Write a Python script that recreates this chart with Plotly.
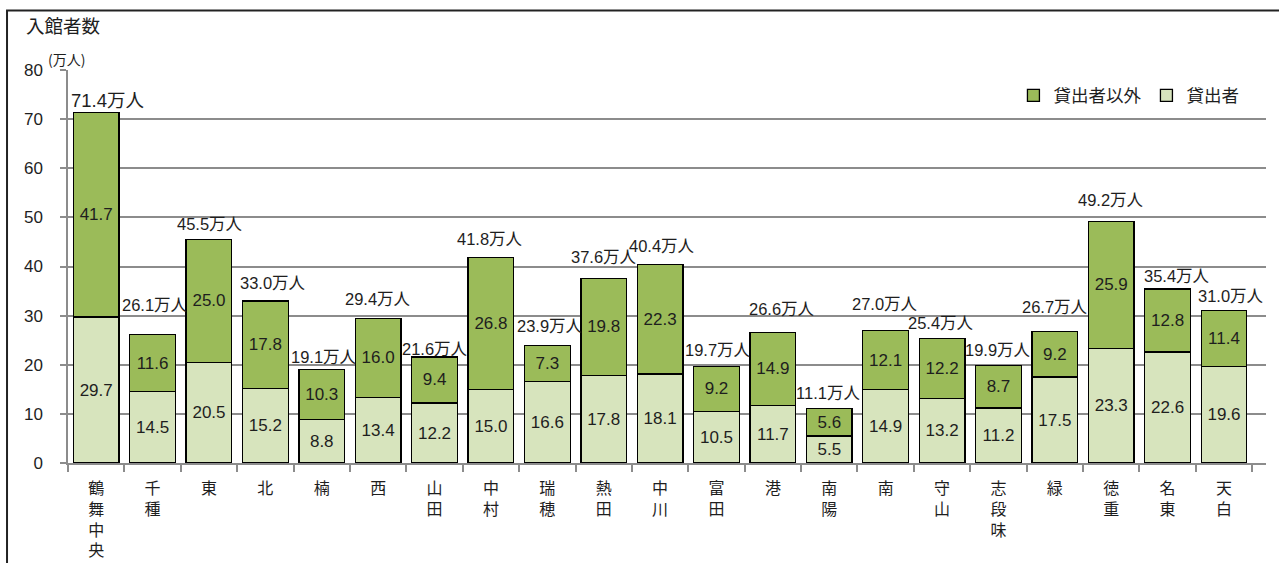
import plotly.graph_objects as go

# 図書館別 入館者数（万人）
libraries = ["鶴舞中央", "千種", "東", "北", "楠", "西", "山田", "中村", "瑞穂", "熱田", "中川",
             "富田", "港", "南陽", "南", "守山", "志段味", "緑", "徳重", "名東", "天白"]
borrowers = [29.7, 14.5, 20.5, 15.2, 8.8, 13.4, 12.2, 15.0, 16.6, 17.8, 18.1,
             10.5, 11.7, 5.5, 14.9, 13.2, 11.2, 17.5, 23.3, 22.6, 19.6]
non_borrowers = [41.7, 11.6, 25.0, 17.8, 10.3, 16.0, 9.4, 26.8, 7.3, 19.8, 22.3,
                 9.2, 14.9, 5.6, 12.1, 12.2, 8.7, 9.2, 25.9, 12.8, 11.4]
totals = [71.4, 26.1, 45.5, 33.0, 19.1, 29.4, 21.6, 41.8, 23.9, 37.6, 40.4,
          19.7, 26.6, 11.1, 27.0, 25.4, 19.9, 26.7, 49.2, 35.4, 31.0]
y_ticks = [0, 10, 20, 30, 40, 50, 60, 70, 80]

# 合計ラベルの配置調整（ピクセル: 横ずれ, バー上端からの高さ）
label_dx = [11, 2, 1, 8, 2, 0, 0, -1, 3, 0, 2, 2, 9, -1, -1, -1, 0, 0, 0, 9, 7]
label_dy = [12, 30, 15, 18, 12, 20, 8, 19, 20, 21, 19, 16, 23, 15, 26, 15, 15, 25, 21, 13, 15]

NUM_FONT = "Liberation Sans, Noto Sans CJK JP"
CJK_FONT = "Noto Sans CJK JP, Liberation Sans"
DARK = "#9BBB59"
LIGHT = "#D7E4BD"
INK = "#1E1E1E"

# 縦書きのカテゴリラベル
vertical_labels = ["<br>".join(list(name)) for name in libraries]

fig = go.Figure()
fig.add_trace(go.Bar(
    x=vertical_labels, y=borrowers, name="貸出者",
    marker=dict(color=LIGHT, line=dict(color="#000000", width=1.3)),
    text=[f"{v:.1f}" for v in borrowers], textposition="inside",
    insidetextanchor="middle", textangle=0, constraintext="none",
    textfont=dict(family=NUM_FONT, size=17, color=INK),
    hoverinfo="skip",
))
fig.add_trace(go.Bar(
    x=vertical_labels, y=non_borrowers, name="貸出者以外",
    marker=dict(color=DARK, line=dict(color="#000000", width=1.3)),
    text=[f"{v:.1f}" for v in non_borrowers], textposition="inside",
    insidetextanchor="middle", textangle=0, constraintext="none",
    textfont=dict(family=NUM_FONT, size=17, color=INK),
    hoverinfo="skip",
))

# 合計値ラベル
for lab, tot, dx, dy in zip(vertical_labels, totals, label_dx, label_dy):
    big = tot == max(totals)
    fig.add_annotation(
        x=lab, y=tot, text=f"{tot:.1f}万人", showarrow=False,
        yanchor="middle", xanchor="center", xshift=dx, yshift=dy,
        font=dict(family=NUM_FONT, size=18.5 if big else 16.5, color=INK),
    )

# 軸タイトル
fig.add_annotation(xref="paper", yref="paper", x=-0.0368, y=1.1145, xanchor="left",
                   yanchor="middle", text="入館者数", showarrow=False,
                   font=dict(family=CJK_FONT, size=18.5, color=INK))
fig.add_annotation(xref="paper", yref="paper", x=-0.0185, y=1.0280, xanchor="left",
                   yanchor="middle", text="(万人)", showarrow=False,
                   font=dict(family=CJK_FONT, size=14, color=INK))

# 外枠
fig.add_shape(type="line", xref="paper", yref="paper", x0=-0.0517, x1=1.02,
              y0=1.1514, y1=1.1514, line=dict(color="#222222", width=2))
fig.add_shape(type="line", xref="paper", yref="paper", x0=-0.0509, x1=-0.0509,
              y0=1.1514, y1=-0.3, line=dict(color="#222222", width=2))

fig.update_layout(
    barmode="stack", bargap=0.19,
    width=1279, height=563,
    margin=dict(l=68, r=13, t=70, b=100, autoexpand=False),
    plot_bgcolor="white", paper_bgcolor="white",
    showlegend=True,
    legend=dict(orientation="h", x=0.982, y=0.935, xanchor="right", yanchor="middle",
                traceorder="reversed",
                font=dict(family=CJK_FONT, size=17.5, color=INK),
                bgcolor="rgba(0,0,0,0)", itemwidth=30),
    uniformtext=dict(minsize=14, mode="show"),
)
fig.update_xaxes(
    type="category", showline=True, linecolor="#8C8C8C", linewidth=1.5,
    ticks="outside", tickson="boundaries", ticklen=7, tickcolor="#8C8C8C", tickwidth=1.5,
    tickfont=dict(family=CJK_FONT, size=16, color=INK), tickangle=0,
    ticklabelstandoff=10, showgrid=False, fixedrange=True, automargin=False,
)
fig.update_yaxes(
    range=[0, 80], tickvals=y_ticks, showline=True, linecolor="#8C8C8C", linewidth=1.5,
    ticks="outside", ticklen=6, tickcolor="#8C8C8C", tickwidth=1.5,
    showgrid=True, gridcolor="#8C8C8C", gridwidth=1.5, zeroline=False,
    tickfont=dict(family=NUM_FONT, size=17, color=INK), ticklabelstandoff=14,
    fixedrange=True, automargin=False,
)

fig.write_html("out.html")
